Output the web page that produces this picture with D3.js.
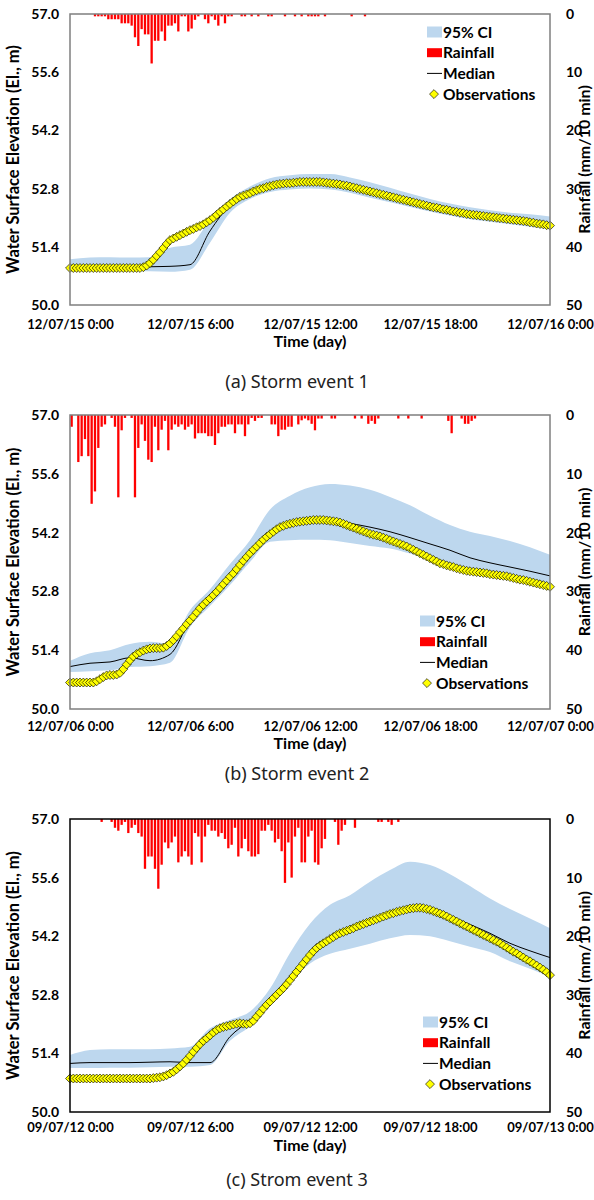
<!DOCTYPE html>
<html>
<head>
<meta charset="utf-8">
<title>Storm events - WSE</title>
<script src="https://cdn.jsdelivr.net/npm/d3@7"></script>
<style>
    body { margin: 0; background: #fff; }
    text { font-family: Lato, "Open Sans", sans-serif; }
    .tick text { font-weight: bold; fill: #000; }
    .lab { font-weight: bold; fill: #000; }
    .cap { font-family: "Noto Sans", sans-serif; fill: #222; }
</style>
</head>
<body>
<script>
var width = 594,
    height = 1200;

// ---- data ----
var startDays = ["2012-07-15", "2012-07-06", "2009-07-12"];
var captions = ["(a) Storm event 1", "(b) Storm event 2", "(c) Strom event 3"];
var elevTicks = [50.0, 51.4, 52.8, 54.2, 55.6, 57.0];
var rainTicks = [0, 10, 20, 30, 40, 50];
var legendLabels = ["95% CI", "Rainfall", "Median", "Observations"];

// rainfall, mm per 10 min (from start)
var rain1 = [0,0,0,0,0,0,0,0.4,0.4,0.4, 0.4,0.9,0.9,0.9,0.9,1.6,1.6,1.6,2.0,4.0,
    5.5,2.6,3.5,3.5,8.5,4.6,4.6,3.0,4.6,2.0, 2.0,1.6,3.0,0.4,0.4,3.0,2.5,1.0,0.4,0,
    0.9,1.6,0.4,1.0,2.0,0.4,1.6,0.4,0.4,0, 0,0.4,0.4,0,0.4,0,0.4,0,0,0.4,
    0.4,0,0,0,0.4,0,0,0.4,0,0.4, 0,0.4,0.4,0.4,0.4,0,0.4,0,0,0,
    0,0,0,0,0.4,0,0,0,0.4];
var rain2 = [2.0,0,8.0,7.0,4.1,7.0,15.1,13.0,5.6,2.0, 1.6,0,0.5,2.0,14.0,2.6,0.5,0,0.5,14.0,
    5.6,1.6,4.4,7.6,8.0,2.0,6.0,2.5,1.0,6.0, 2.5,1.6,2.0,1.6,2.5,2.0,1.6,4.0,3.1,3.1,
    3.1,3.6,3.6,5.1,3.1,2.0,2.0,1.6,1.6,3.1, 1.6,1.6,3.6,1.6,0.5,1.0,0.5,0.5,0,0,
    1.6,1.6,3.6,2.5,2.5,2.0,2.0,0,1.6,0.9, 0.6,0.9,1.5,2.6,0.6,0.6,0,0,0.6,0.6,
    0,0,0,0,0,0.6,0,0.6,0,1.5, 1.0,1.5,0.6,0,0,0,0,0,0.6,0,
    0,0.6,0,0,0,0.6,0,0,0,0, 0,0,0,1.0,3.1,0,0,0.6,1.5,1.5,
    1.0,0.6];
var rain3 = [0,0,0,0,0,0,0,0,0,0.5, 0,0,0.5,1.5,2.0,1.0,0.5,2.4,1.5,1.0,
    2.4,3.0,8.5,6.4,6.4,8.5,11.9,7.8,4.0,5.0, 4.0,3.0,7.4,6.4,5.5,6.4,7.8,2.4,3.0,7.4,
    3.0,1.0,2.0,2.0,3.0,2.4,3.4,5.0,4.4,1.5, 6.4,5.0,3.4,5.5,6.4,6.4,6.0,2.0,2.0,1.0,
    2.0,4.0,3.4,5.5,10.9,4.0,10.0,3.0,1.5,7.4, 7.4,3.0,2.0,7.4,7.8,5.0,3.4,0,0,0.5,
    4.4,2.0,1.0,0,0,1.5,0,0,0,0, 0,0,0.5,0.5,0,0.5,1.0,0,0.5];

// observed water surface elevation, every 10 min (145 values)
var obs1 = [50.89,50.89,50.89,50.89,50.89,50.89, 50.89,50.89,50.89,50.89,50.89,50.89,
    50.89,50.89,50.89,50.89,50.89,50.89, 50.89,50.89,50.89,50.89,50.91,50.95,
    51.01,51.09,51.18,51.27,51.37,51.47, 51.56,51.60,51.64,51.68,51.72,51.76,
    51.80,51.83,51.87,51.90,51.94,51.99, 52.04,52.10,52.17,52.24,52.30,52.37,
    52.43,52.49,52.55,52.60,52.63,52.66, 52.69,52.73,52.76,52.79,52.81,52.84,
    52.86,52.88,52.90,52.91,52.92,52.93, 52.93,52.94,52.95,52.96,52.96,52.96,
    52.96,52.96,52.96,52.96,52.95,52.94, 52.93,52.92,52.91,52.90,52.88,52.87,
    52.85,52.83,52.81,52.79,52.77,52.75, 52.73,52.71,52.69,52.67,52.65,52.63,
    52.61,52.59,52.57,52.55,52.53,52.51, 52.49,52.47,52.45,52.43,52.41,52.39,
    52.37,52.35,52.34,52.32,52.30,52.29, 52.27,52.25,52.24,52.22,52.21,52.19,
    52.18,52.17,52.16,52.15,52.14,52.13, 52.12,52.11,52.10,52.09,52.08,52.07,
    52.06,52.05,52.04,52.03,52.02,52.01, 51.99,51.98,51.96,51.95,51.94,51.92,
    51.91];
var obs2 = [50.63,50.63,50.63,50.63,50.63,50.63, 50.63,50.63,50.66,50.71,50.76,50.80,
    50.81,50.81,50.82,50.86,50.95,51.06, 51.16,51.25,51.31,51.35,51.39,51.42,
    51.44,51.45,51.45,51.45,51.46,51.50, 51.56,51.64,51.73,51.83,51.92,52.02,
    52.11,52.20,52.30,52.40,52.48,52.56, 52.63,52.71,52.79,52.88,52.97,53.06,
    53.15,53.23,53.33,53.43,53.53,53.62, 53.71,53.79,53.87,53.95,54.03,54.10,
    54.16,54.22,54.28,54.33,54.36,54.39, 54.41,54.43,54.45,54.46,54.47,54.48,
    54.49,54.50,54.50,54.50,54.50,54.49, 54.48,54.47,54.46,54.44,54.41,54.38,
    54.35,54.32,54.29,54.26,54.23,54.20, 54.17,54.15,54.13,54.11,54.08,54.05,
    54.02,53.99,53.96,53.93,53.90,53.87, 53.83,53.79,53.75,53.71,53.67,53.63,
    53.59,53.55,53.51,53.47,53.45,53.42, 53.40,53.38,53.35,53.33,53.31,53.29,
    53.28,53.27,53.26,53.25,53.24,53.23, 53.21,53.20,53.19,53.18,53.17,53.16,
    53.14,53.12,53.10,53.08,53.07,53.05, 53.03,53.01,52.99,52.97,52.95,52.93,
    52.91];
var obs3 = [50.80,50.80,50.80,50.80,50.80,50.80, 50.80,50.80,50.80,50.80,50.80,50.80,
    50.80,50.80,50.80,50.80,50.80,50.80, 50.80,50.80,50.80,50.80,50.80,50.80,
    50.80,50.81,50.82,50.83,50.85,50.88, 50.92,50.96,51.02,51.09,51.16,51.25,
    51.34,51.44,51.53,51.62,51.70,51.76, 51.83,51.90,51.96,52.00,52.03,52.05,
    52.07,52.09,52.11,52.12,52.11,52.10, 52.12,52.18,52.28,52.37,52.47,52.56,
    52.64,52.72,52.80,52.88,52.96,53.05, 53.15,53.25,53.35,53.45,53.55,53.65,
    53.75,53.84,53.92,53.98,54.03,54.08, 54.13,54.18,54.23,54.27,54.30,54.33,
    54.36,54.39,54.43,54.46,54.49,54.52, 54.55,54.58,54.61,54.64,54.67,54.70,
    54.73,54.75,54.78,54.80,54.82,54.84, 54.86,54.87,54.88,54.88,54.87,54.85,
    54.83,54.80,54.77,54.74,54.71,54.67, 54.63,54.59,54.55,54.51,54.47,54.43,
    54.39,54.35,54.31,54.27,54.23,54.19, 54.15,54.11,54.07,54.03,53.98,53.93,
    53.88,53.83,53.79,53.74,53.69,53.64, 53.60,53.55,53.50,53.45,53.40,53.34,
    53.27];

// hourly median and 95% CI bounds (25 values, 0h..24h)
var med1 = [50.89,50.89,50.89,50.90,50.92,50.93,50.97,51.78,52.40,52.69,52.86,52.93,52.96,
    52.93,52.85,52.73,52.61,52.49,52.37,52.27,52.18,52.12,52.06,51.99,51.91];
var lo1 = [50.82,50.82,50.82,50.82,50.81,50.80,50.85,51.50,52.22,52.55,52.72,52.78,52.80,
    52.78,52.70,52.58,52.47,52.36,52.25,52.15,52.06,52.00,51.94,51.88,51.82];
var up1 = [51.10,51.14,51.15,51.14,51.15,51.38,51.45,52.05,52.55,52.85,53.05,53.12,53.15,
    53.15,53.07,52.95,52.82,52.68,52.55,52.44,52.35,52.28,52.22,52.18,52.13];

var med2 = [51.01,51.09,51.12,51.22,51.15,51.30,52.10,52.60,53.10,53.68,54.20,54.42,54.50,
    54.50,54.42,54.33,54.22,54.08,53.93,53.78,53.60,53.48,53.38,53.28,53.17];
var lo2 = [50.88,50.90,50.92,51.00,51.02,51.10,51.95,52.45,52.95,53.50,53.98,54.02,54.03,
    54.02,53.95,53.88,53.82,53.70,53.55,53.38,53.26,53.16,53.10,53.02,52.91];
var up2 = [51.15,51.33,51.40,51.55,51.60,51.55,52.35,52.85,53.45,54.02,54.75,55.08,55.28,
    55.36,55.32,55.22,55.05,54.85,54.60,54.38,54.22,54.12,54.00,53.85,53.67];

var med3 = [51.16,51.18,51.18,51.18,51.19,51.20,51.18,51.18,51.80,52.20,52.70,53.25,53.80,
    54.15,54.38,54.55,54.75,54.90,54.88,54.68,54.48,54.27,54.03,53.85,53.69];
var lo3 = [51.05,51.05,51.06,51.06,51.07,51.08,51.08,51.12,51.70,52.05,52.55,53.10,53.55,
    53.78,53.90,54.02,54.15,54.23,54.20,54.08,53.95,53.82,53.60,53.42,53.23];
var up3 = [51.36,51.48,51.50,51.50,51.50,51.52,51.56,52.00,52.20,52.40,52.95,53.80,54.50,
    54.95,55.18,55.50,55.78,55.98,55.90,55.68,55.40,55.10,54.85,54.62,54.39];

// ---- layout ----
var left = 70, right = 550;
var panels = [
    { top: 14,  bottom: 305,  tickY: 329,  titleY: 347,  capY: 388,  legX: 427, legY: 32,   frame: "#7f7f7f",
      rain: rain1, obs: obs1, med: med1, lo: lo1, up: up1 },
    { top: 415, bottom: 709,  tickY: 731,  titleY: 749,  capY: 780,  legX: 420, legY: 621,  frame: "#7f7f7f",
      rain: rain2, obs: obs2, med: med2, lo: lo2, up: up2 },
    { top: 819, bottom: 1112, tickY: 1132, titleY: 1151, capY: 1186, legX: 423, legY: 1022, frame: "#000",
      rain: rain3, obs: obs3, med: med3, lo: lo3, up: up3 }
];

var svg = d3.select("body")
    .append("svg")
    .attr("width", width)
    .attr("height", height);

var parseDay = d3.timeParse("%Y-%m-%d");
var fmtTick = d3.timeFormat("%y/%m/%d %-H:%M");
var diamond = d3.symbol().type(d3.symbolSquare).size(40);

panels.forEach(function(p, k) {
    var g = svg.append("g");
    var start = parseDay(startDays[k]);
    var end = d3.timeHour.offset(start, 24);

    var x = d3.scaleTime().domain([start, end]).range([left, right]);
    var y = d3.scaleLinear().domain([50, 57]).range([p.bottom, p.top]);
    var yr = d3.scaleLinear().domain([0, 50]).range([p.top, p.bottom]);

    var tObs = function(i) { return d3.timeMinute.offset(start, i * 10); };
    var tHr = function(i) { return d3.timeHour.offset(start, i); };

    // 95% CI band
    var band = d3.area()
        .x(function(d, i) { return x(tHr(i)); })
        .y0(function(d) { return y(d); })
        .y1(function(d, i) { return y(p.up[i]); })
        .curve(d3.curveMonotoneX);
    g.append("path")
        .datum(p.lo)
        .attr("d", band)
        .attr("fill", "#bdd7ee");

    // rainfall bars hanging from the top
    g.append("g").selectAll("rect")
        .data(p.rain.map(function(d, i) { return { v: d, i: i }; }).filter(function(d) { return d.v > 0; }))
        .enter()
        .append("rect")
        .attr("x", function(d) { return x(tObs(d.i)) + 0.5; })
        .attr("y", p.top)
        .attr("width", 2.3)
        .attr("height", function(d) { return yr(d.v) - p.top; })
        .attr("fill", "#ff0000");

    // median
    var line = d3.line()
        .x(function(d, i) { return x(tHr(i)); })
        .y(function(d) { return y(d); })
        .curve(d3.curveMonotoneX);
    g.append("path")
        .datum(p.med)
        .attr("d", line)
        .attr("fill", "none")
        .attr("stroke", "#000")
        .attr("stroke-width", 1);

    // observations
    g.append("g").selectAll("path")
        .data(p.obs)
        .enter()
        .append("path")
        .attr("d", diamond)
        .attr("transform", function(d, i) { return "translate(" + x(tObs(i)) + "," + y(d) + ") rotate(45)"; })
        .attr("fill", "#ffff00")
        .attr("stroke", "#000")
        .attr("stroke-width", 0.6);

    // plot frame
    g.append("rect")
        .attr("x", left)
        .attr("y", p.top)
        .attr("width", right - left)
        .attr("height", p.bottom - p.top)
        .attr("fill", "none")
        .attr("stroke", p.frame)
        .attr("stroke-width", 1.5);

    // axes
    var ax = g.append("g")
        .attr("transform", "translate(0," + p.bottom + ")")
        .call(d3.axisBottom(x)
            .tickValues(d3.timeHour.every(6).range(start, d3.timeMinute.offset(end, 1)))
            .tickFormat(fmtTick)
            .tickSize(0));
    ax.select(".domain").remove();
    ax.selectAll("text")
        .attr("dy", null)
        .attr("y", p.tickY - p.bottom)
        .style("font-size", "13px");

    var ay = g.append("g")
        .attr("transform", "translate(" + left + ",0)")
        .call(d3.axisLeft(y).tickValues(elevTicks).tickFormat(d3.format(".1f")).tickSize(0).tickPadding(11));
    ay.select(".domain").remove();
    ay.selectAll("text").style("font-size", "14px");

    var ar = g.append("g")
        .attr("transform", "translate(" + right + ",0)")
        .call(d3.axisRight(yr).tickValues(rainTicks).tickSize(0).tickPadding(16));
    ar.select(".domain").remove();
    ar.selectAll("text").style("font-size", "14px");

    // axis titles
    var mid = (p.top + p.bottom) / 2;
    g.append("text")
        .attr("class", "lab")
        .attr("transform", "translate(19," + mid + ") rotate(-90)")
        .attr("text-anchor", "middle")
        .style("font-size", "16.5px")
        .text("Water Surface Elevation (El., m)");
    g.append("text")
        .attr("class", "lab")
        .attr("transform", "translate(590," + mid + ") rotate(-90)")
        .attr("text-anchor", "middle")
        .style("font-size", "16px")
        .text("Rainfall (mm/10 min)");
    g.append("text")
        .attr("class", "lab")
        .attr("x", (left + right) / 2)
        .attr("y", p.titleY)
        .attr("text-anchor", "middle")
        .style("font-size", "16px")
        .text("Time (day)");

    // caption
    g.append("text")
        .attr("class", "cap")
        .attr("x", 297)
        .attr("y", p.capY)
        .attr("text-anchor", "middle")
        .style("font-size", "18px")
        .text(captions[k]);

    // legend
    var lg = g.append("g").attr("transform", "translate(" + p.legX + "," + p.legY + ")");
    var rowH = 20.7;
    lg.append("rect").attr("x", 0).attr("y", -5.5).attr("width", 15).attr("height", 11).attr("fill", "#bdd7ee");
    lg.append("rect").attr("x", 0).attr("y", rowH - 4.5).attr("width", 15).attr("height", 9).attr("fill", "#ff0000");
    lg.append("line").attr("x1", 0).attr("x2", 15).attr("y1", 2 * rowH).attr("y2", 2 * rowH)
        .attr("stroke", "#000").attr("stroke-width", 1);
    lg.append("path").attr("d", diamond)
        .attr("transform", "translate(7," + (3 * rowH) + ") rotate(45)")
        .attr("fill", "#ffff00").attr("stroke", "#000").attr("stroke-width", 0.6);
    lg.selectAll("text.leg")
        .data(legendLabels)
        .enter()
        .append("text")
        .attr("class", "lab leg")
        .attr("x", 16)
        .attr("y", function(d, i) { return i * rowH + 5.5; })
        .style("font-size", "15.5px")
        .text(function(d) { return d; });
});
</script>
</body>
</html>
